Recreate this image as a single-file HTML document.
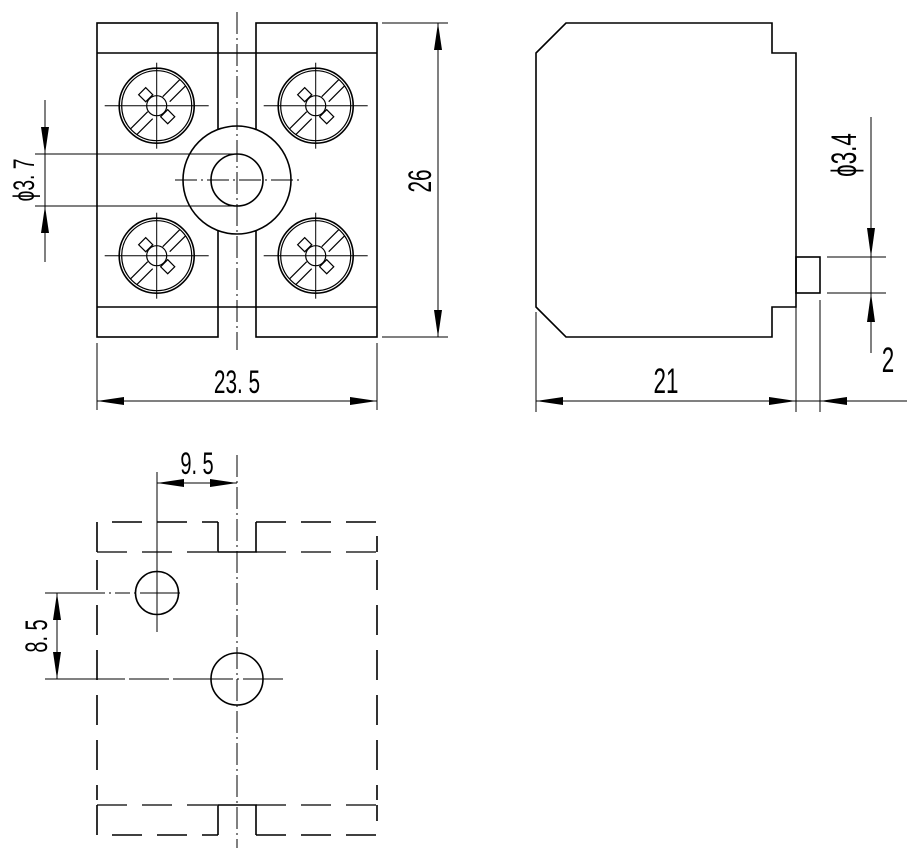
<!DOCTYPE html>
<html><head><meta charset="utf-8"><style>
html,body{margin:0;padding:0;background:#fff;}
svg{display:block;}
text{font-family:"Liberation Sans Narrow","Liberation Sans",sans-serif;fill:#000;}
</style></head><body>
<svg width="913" height="854" viewBox="0 0 913 854" xmlns="http://www.w3.org/2000/svg">
<defs>
<g id="scr">
  <circle r="37.5" fill="none" stroke="#000" stroke-width="1.6"/>
  <circle r="35" fill="none" stroke="#000" stroke-width="1.2"/>
  <line x1="-26" y1="23" x2="-9" y2="6" stroke="#000" stroke-width="1.2"/>
  <line x1="-20" y1="29" x2="-4" y2="13" stroke="#000" stroke-width="1.2"/>
  <line x1="6" y1="-9" x2="23" y2="-26" stroke="#000" stroke-width="1.2"/>
  <line x1="13" y1="-4" x2="29" y2="-20" stroke="#000" stroke-width="1.2"/>
  <circle r="10" fill="#fff" stroke="#000" stroke-width="1.2"/>
  <rect x="-5" y="-5" width="10" height="10" transform="translate(-11,-11) rotate(45)" fill="#fff" stroke="#000" stroke-width="1.2"/>
  <rect x="-5" y="-5" width="10" height="10" transform="translate(11,11) rotate(45)" fill="#fff" stroke="#000" stroke-width="1.2"/>
  <line x1="-52" y1="0" x2="52" y2="0" stroke="#000" stroke-width="1"/>
  <line x1="0" y1="-43" x2="0" y2="43" stroke="#000" stroke-width="1"/>
</g>
</defs>
<g fill="none" stroke="#000" stroke-width="1.6">
  <rect x="97" y="23" width="121" height="314"/>
  <rect x="256" y="23" width="121" height="314"/>
  <line x1="97" y1="53" x2="377" y2="53"/>
  <line x1="97" y1="307" x2="377" y2="307"/>
  <circle cx="237" cy="180" r="54" fill="#fff"/>
  <circle cx="237" cy="180" r="26"/>
</g>
<use href="#scr" x="156.7" y="105.7"/>
<use href="#scr" x="315.7" y="105.7"/>
<use href="#scr" x="156.7" y="255.7"/>
<use href="#scr" x="315.7" y="255.7"/>
<g stroke="#000" stroke-width="1" fill="none">
  <line x1="237" y1="12" x2="237" y2="350" stroke-dasharray="22 4 2 4"/>
  <line x1="175" y1="180" x2="300" y2="180" stroke-dasharray="22 4 2 4"/>
  <line x1="35" y1="154" x2="237" y2="154"/>
  <line x1="35" y1="206" x2="237" y2="206"/>
  <line x1="45" y1="100" x2="45" y2="262"/>
  <line x1="382" y1="23" x2="448" y2="23"/>
  <line x1="382" y1="337" x2="448" y2="337"/>
  <line x1="438" y1="23" x2="438" y2="337"/>
  <line x1="97" y1="343" x2="97" y2="410"/>
  <line x1="377" y1="343" x2="377" y2="410"/>
  <line x1="97" y1="401" x2="377" y2="401"/>
</g>
<g fill="#000">
  <polygon points="45,154 41,127 49,127"/>
  <polygon points="45,206 41,233 49,233"/>
  <polygon points="438,23 434,50 442,50"/>
  <polygon points="438,337 434,310 442,310"/>
  <polygon points="97,401 124,397 124,405"/>
  <polygon points="377,401 350,397 350,405"/>
</g>
<text transform="translate(34,180) rotate(-90) scale(0.8,1.25)" font-size="24" text-anchor="middle">ϕ3. 7</text>
<text transform="translate(431,181) rotate(-90) scale(0.8,1.25)" font-size="26" text-anchor="middle">26</text>
<text transform="translate(237,393) scale(0.8,1.25)" font-size="26" text-anchor="middle">23. 5</text>

<g fill="none" stroke="#000" stroke-width="1.6">
  <polygon points="536,53 566,23 772,23 772,53 796,53 796,307 772,307 772,337 566,337 536,307"/>
  <rect x="796" y="257" width="24" height="36"/>
</g>
<g stroke="#000" stroke-width="1" fill="none">
  <line x1="827" y1="257" x2="886" y2="257"/>
  <line x1="827" y1="293" x2="886" y2="293"/>
  <line x1="871" y1="117" x2="871" y2="353"/>
  <line x1="536" y1="312" x2="536" y2="412"/>
  <line x1="796" y1="300" x2="796" y2="412"/>
  <line x1="820" y1="300" x2="820" y2="412"/>
  <line x1="536" y1="401" x2="907" y2="401"/>
</g>
<g fill="#000">
  <polygon points="871,257 867,228 875,228"/>
  <polygon points="871,293 867,322 875,322"/>
  <polygon points="536,401 563,397 563,405"/>
  <polygon points="796,401 769,397 769,405"/>
  <polygon points="820,401 847,397 847,405"/>
</g>
<text transform="translate(856,155) rotate(-90) scale(0.8,1.25)" font-size="28" text-anchor="middle">ϕ3.4</text>
<text transform="translate(888,372) scale(0.8,1.25)" font-size="28" text-anchor="middle">2</text>
<text transform="translate(666,393) scale(0.8,1.25)" font-size="28" text-anchor="middle">21</text>

<g fill="none" stroke="#000" stroke-width="1.6">
  <path d="M97,552 V522 H218 M256,522 H377 V552" stroke-dasharray="30 15"/>
  <path d="M218,522 V552 H256 V522"/>
  <line x1="97" y1="552" x2="218" y2="552" stroke-dasharray="30 15" stroke-width="1.2"/>
  <line x1="256" y1="552" x2="377" y2="552" stroke-dasharray="30 15" stroke-width="1.2"/>
  <line x1="97" y1="560" x2="97" y2="800" stroke-dasharray="30 15"/>
  <line x1="377" y1="560" x2="377" y2="800" stroke-dasharray="30 15"/>
  <line x1="97" y1="805" x2="218" y2="805" stroke-dasharray="30 15" stroke-width="1.2"/>
  <line x1="256" y1="805" x2="377" y2="805" stroke-dasharray="30 15" stroke-width="1.2"/>
  <path d="M218,835 V805 H256 V835"/>
  <path d="M97,805 V835 H218 M256,835 H377 V805" stroke-dasharray="30 15"/>
  <circle cx="157" cy="593" r="21.5"/>
  <circle cx="237" cy="679" r="26"/>
</g>
<g stroke="#000" stroke-width="1" fill="none">
  <line x1="237" y1="455" x2="237" y2="848" stroke-dasharray="22 4 2 4"/>
  <line x1="157" y1="472" x2="157" y2="632"/>
  <line x1="45" y1="593" x2="193" y2="593" stroke-dasharray="60 4 2 4 15 4 2 4 40"/>
  <line x1="45" y1="679" x2="300" y2="679" stroke-dasharray="80 4 40 4 60 4 2 4 40"/>
  <line x1="157" y1="483" x2="237" y2="483"/>
  <line x1="57" y1="593" x2="57" y2="679"/>
</g>
<g fill="#000">
  <polygon points="157,483 184,479 184,487"/>
  <polygon points="237,483 210,479 210,487"/>
  <polygon points="57,593 53,620 61,620"/>
  <polygon points="57,679 53,652 61,652"/>
</g>
<text transform="translate(197,474) scale(0.8,1.25)" font-size="25" text-anchor="middle">9. 5</text>
<text transform="translate(47,636) rotate(-90) scale(0.8,1.25)" font-size="25" text-anchor="middle">8. 5</text>
</svg>
</body></html>
